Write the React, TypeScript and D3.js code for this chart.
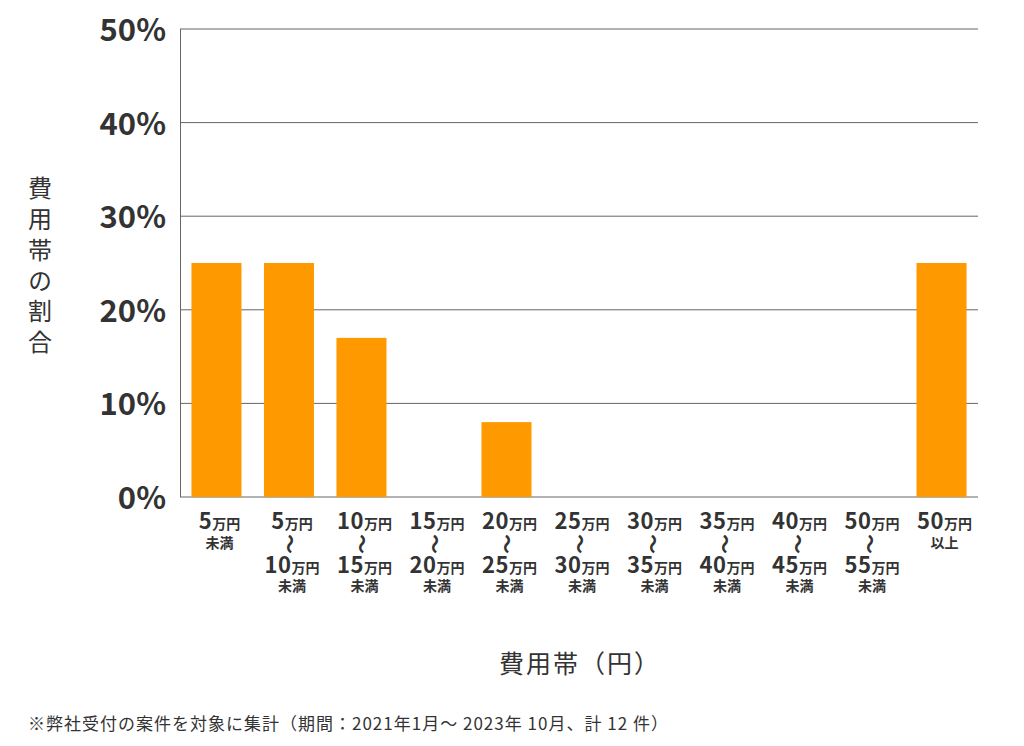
import React from 'react';
import * as d3 from 'd3';

const categories = ['c1', 'c2', 'c3', 'c4', 'c5', 'c6', 'c7', 'c8', 'c9', 'c10', 'c11'];
const topAmounts = ['5', '5', '10', '15', '20', '25', '30', '35', '40', '50', '50'];
const bottomAmounts = [null, '10', '15', '20', '25', '30', '35', '40', '45', '55', null];
const suffixes = ['未満', '未満', '未満', '未満', '未満', '未満', '未満', '未満', '未満', '未満', '以上'];
const shares = [25, 25, 17, 0, 8, 0, 0, 0, 0, 0, 25];
const yTicks = [0, 10, 20, 30, 40, 50];
const yTitle = '費用帯の割合';
const xTitle = '費用帯（円）';
const note = '※弊社受付の案件を対象に集計（期間：2021年1月～ 2023年 10月、計 12 件）';

const width = 1024;
const height = 746;
const font = '"Noto Sans CJK JP", "Noto Sans", sans-serif';

export default function App() {
  const x = d3.scaleBand<string>()
    .domain(categories)
    .range([180, 978])
    .paddingInner(0.31)
    .paddingOuter(0.158);
  const y = d3.scaleLinear().domain([0, 50]).range([497, 29]);

  const amount = (num: string, cx: number, baseline: number) => (
    <text x={cx} y={baseline} textAnchor="middle" fill="#333" fontWeight="bold">
      <tspan fontSize={22} letterSpacing={0.5}>{num}</tspan>
      <tspan fontSize={14}>万円</tspan>
    </text>
  );

  return (
    <svg width={width} height={height} style={{ position: 'absolute', left: 0, top: 0 }} fontFamily={font}>
      <rect width={width} height={height} fill="#fff" />
      {/* grid */}
      {yTicks.map(t => (
        <line key={t} x1={180} x2={978} y1={y(t)} y2={y(t)} stroke="#666" strokeWidth={1} />
      ))}
      <line x1={180.5} x2={180.5} y1={y(50)} y2={y(0)} stroke="#666" strokeWidth={1} />
      {/* bars */}
      {categories.map((c, i) => shares[i] > 0 && (
        <rect key={c} x={x(c)} y={y(shares[i])} width={x.bandwidth()} height={y(0) - y(shares[i])} fill="#ff9900" />
      ))}
      {/* y tick labels */}
      {yTicks.map(t => (
        <text key={t} x={166} y={y(t) + 12} textAnchor="end" fontSize={31} fontWeight="bold" fill="#333">{t}%</text>
      ))}
      {/* y title */}
      <text x={40} y={176} fontSize={24} fill="#333" letterSpacing={6.8}
        style={{ writingMode: 'vertical-rl', textOrientation: 'upright' }}>
        {yTitle}
      </text>
      {/* x labels */}
      {categories.map((c, i) => {
        const cx = (x(c) as number) + x.bandwidth() / 2 + 3;
        if (bottomAmounts[i] === null) {
          return (
            <g key={c}>
              {amount(topAmounts[i], cx, 529)}
              <text x={cx} y={548} textAnchor="middle" fontSize={14} fontWeight="bold" fill="#333">{suffixes[i]}</text>
            </g>
          );
        }
        return (
          <g key={c}>
            {amount(topAmounts[i], cx, 529)}
            <text transform={`translate(${cx - 3},544) rotate(90)`} textAnchor="middle" dy="0.35em" fontSize={20} fontWeight="bold" fill="#333">〜</text>
            {amount(bottomAmounts[i] as string, cx, 573)}
            <text x={cx} y={591} textAnchor="middle" fontSize={14} fontWeight="bold" fill="#333">{suffixes[i]}</text>
          </g>
        );
      })}
      {/* x title */}
      <text x={580} y={673} textAnchor="middle" fontSize={25} letterSpacing={2} fill="#333">{xTitle}</text>
      {/* note */}
      <text x={28} y={730} fontSize={17} letterSpacing={1} fill="#333">{note}</text>
    </svg>
  );
}
